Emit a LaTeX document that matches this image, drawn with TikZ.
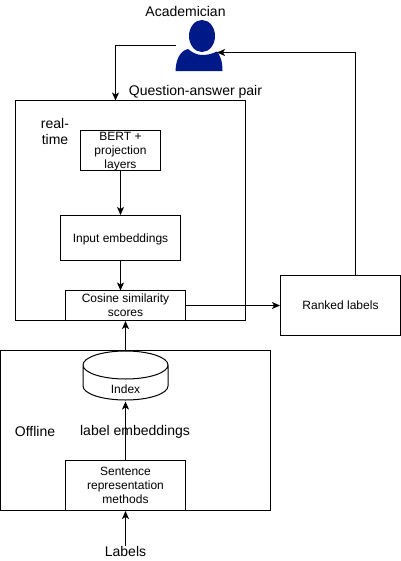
\documentclass[tikz,border=0pt]{standalone}
\usepackage{fontspec}
\setmainfont{Liberation Sans}
\usetikzlibrary{arrows.meta}

\definecolor{userblue}{RGB}{0,25,136}

\tikzset{
  box/.style={draw,line width=0.02cm,inner sep=0,align=center,text depth=0pt,font=\fontsize{6.83}{7.97}\selectfont},
  lbl/.style={inner sep=0,align=center,font=\fontsize{7.97}{9.1}\selectfont},
  conn/.style={line width=0.02cm,-{Stealth[length=0.16cm,width=0.14cm,inset=0.04cm]}}
}

\begin{document}
\begin{tikzpicture}[x=0.02cm,y=-0.02cm]
      \useasboundingbox (0,0) rectangle (401,561);

      % outer frames
      \node [box,minimum width=4.6cm,minimum height=4.4cm] (realtime) at (130.5,210.5) {};
      \node [box,minimum width=5.4cm,minimum height=3.2cm] (offline) at (135.5,430.5) {};

      % inner boxes
      \node [box,minimum width=1.6cm,minimum height=0.8cm] (bert) at (120.5,150.5) {BERT +\\projection\\layers};
      \node [box,minimum width=2.4cm,minimum height=0.9cm] (input) at (120.5,238) {Input embeddings};
      \node [box,minimum width=2.4cm,minimum height=0.6cm] (cosine) at (125.5,305.5) {Cosine similarity\\scores};
      \node [box,minimum width=2.4cm,minimum height=1.2cm] (ranked) at (340.5,305.5) {Ranked labels};
      \node [box,minimum width=2.4cm,minimum height=1cm] (sentence) at (125.5,485.5) {Sentence\\representation\\methods};

      % index
      \node [box,draw=none,minimum width=1.7cm,minimum height=1cm] (index) at (125.5,376) {};
      \node [box,draw=none] (indexlabel) at (125.5,389) {Index};
      \draw [line width=0.02cm] (83,365) arc [start angle=180, end angle=0, x radius=42.5, y radius=14]
        arc [start angle=0, end angle=-180, x radius=42.5, y radius=14]
        -- (83,386) arc [start angle=180, end angle=360, x radius=42.5, y radius=-14] -- (168,365);

      % person
      \node [inner sep=0,minimum width=0.96cm,minimum height=1.02cm] (user) at (199,45.5) {};
      \fill [userblue] (202,36) ellipse [x radius=13, y radius=16];
      \fill [userblue] (175.5,71) .. controls (176,59) and (180,51) .. (188,49)
        .. controls (193,53) and (197,55) .. (202,55) .. controls (207,55) and (212,54) .. (217,51.5)
        .. controls (220,55) and (222.5,61) .. (222.5,71) -- cycle;

      % text
      \node [lbl] (academician) at (185.5,11) {Academician};
      \node [lbl] (pair) at (195.5,92) {Question-answer pair};
      \node [lbl] (realtimelabel) at (55,131) {real-\\time};
      \node [lbl] (offlinelabel) at (35,431) {Offline};
      \node [lbl] (labelemb) at (135,432) {label embeddings};
      \node [lbl] (labels) at (125.5,551) {Labels};

      \coordinate (userleft) at (175.5,45.5);
      \coordinate (usertop) at (115.5,100.5);
      \coordinate (userright) at (217,52.5);
      \coordinate (rankedtop) at (355.5,275.5);

      \draw [conn] (userleft) -- (115.5,45.5) -- (usertop);
      \draw [conn] (rankedtop) -- (355.5,52.5) -- (userright);
      \draw [conn] (bert.south) -- (input.north);
      \draw [conn] (input.south) -- (120.5,290.5);
      \draw [conn] (offline.north -| cosine.south) -- (cosine.south);
      \draw [conn] (cosine.east) -- (ranked.west);
      \draw [conn] (sentence.north) -- (index.south);
      \draw [conn] (labels.north) -- (sentence.south);
  \end{tikzpicture}
\end{document}
